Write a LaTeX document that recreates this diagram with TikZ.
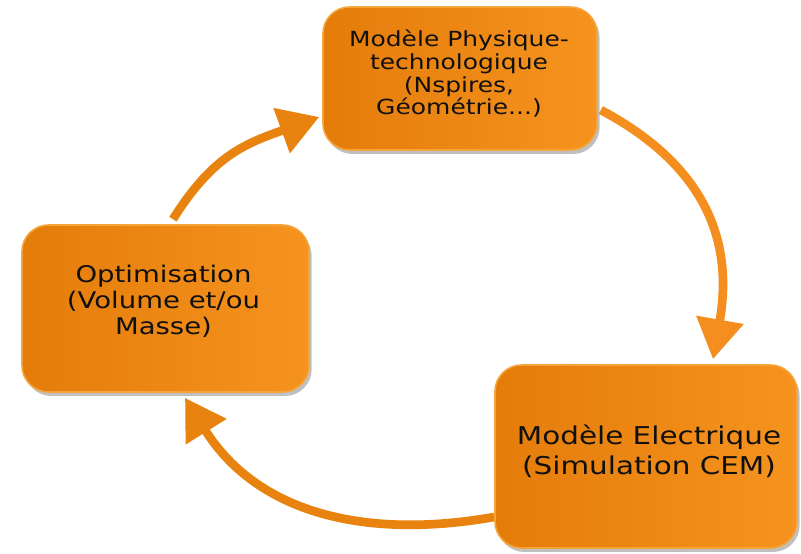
\documentclass[tikz,border=0pt]{standalone}
\usepackage{fontspec}
\newfontfamily\boxfont[FakeStretch=1.2]{DejaVu Sans}
\usetikzlibrary{arrows.meta,shadows,calc,backgrounds}
\definecolor{orDark}{HTML}{E47C0A}
\definecolor{orLight}{HTML}{F6931F}
\definecolor{orRim}{HTML}{F5A43A}
\definecolor{arrA}{HTML}{E9830F}
\definecolor{arrB}{HTML}{F38E1F}
\definecolor{txt}{HTML}{101010}
\begin{document}
\begin{tikzpicture}[x=0.75pt,y=0.75pt,
  box/.style={rounded corners=20pt, draw=orRim, line width=1.2pt,
    left color=orDark, right color=orLight,
    drop shadow={shadow xshift=2pt,shadow yshift=-3pt,opacity=0.45,fill=black!55}},
  lbl/.style={align=center, text=txt, inner sep=0pt},
  flow/.style={draw=arrA, line width=6.5pt, -{Triangle[width=34.5pt,length=30pt]}}]
\useasboundingbox (0,0) rectangle (801,554);

% boxes
\node[box, minimum width=205.5pt, minimum height=107.25pt] (T) at (460,475.5) {};
\node[box, minimum width=215.25pt, minimum height=125.25pt] (L) at (165.5,245.5) {};
\node[box, minimum width=226.5pt, minimum height=137.25pt] (R) at (646,97.5) {};

% texts
\node[lbl, font=\boxfont\fontsize{15.6}{17}\selectfont] (Tt) at ($(T.center)+(-1,4.5)$)
  {Modèle Physique-\\technologique\\(Nspires,\\Géométrie...)};
\node[lbl, font=\boxfont\fontsize{17.2}{19.5}\selectfont] (Lt) at ($(L.center)+(-2,7.5)$)
  {Optimisation\\(Volume et/ou\\Masse)};
\node[lbl, font=\boxfont\fontsize{18.4}{22.5}\selectfont] (Rt) at ($(R.center)+(3,5)$)
  {Modèle Electrique\\(Simulation CEM)};

% arrows
\begin{pgfonlayer}{background}
\draw[flow] ($(L.north)+(7.5,5)$) to[out=58,in=200,looseness=1.1] ($(T.west)+(-3,-38.5)$);
\draw[flow, draw=arrB] ($(T.east)+(3,-31.5)$) .. controls +(-28:95) and +(80:140) .. ($(R.north)+(67,5)$);
\draw[flow] ($(R.west)+(0,-60.5)$) .. controls +(190:140) and +(-58:130) .. ($(L.south)+(19.5,-5)$);
\end{pgfonlayer}
\end{tikzpicture}
\end{document}
